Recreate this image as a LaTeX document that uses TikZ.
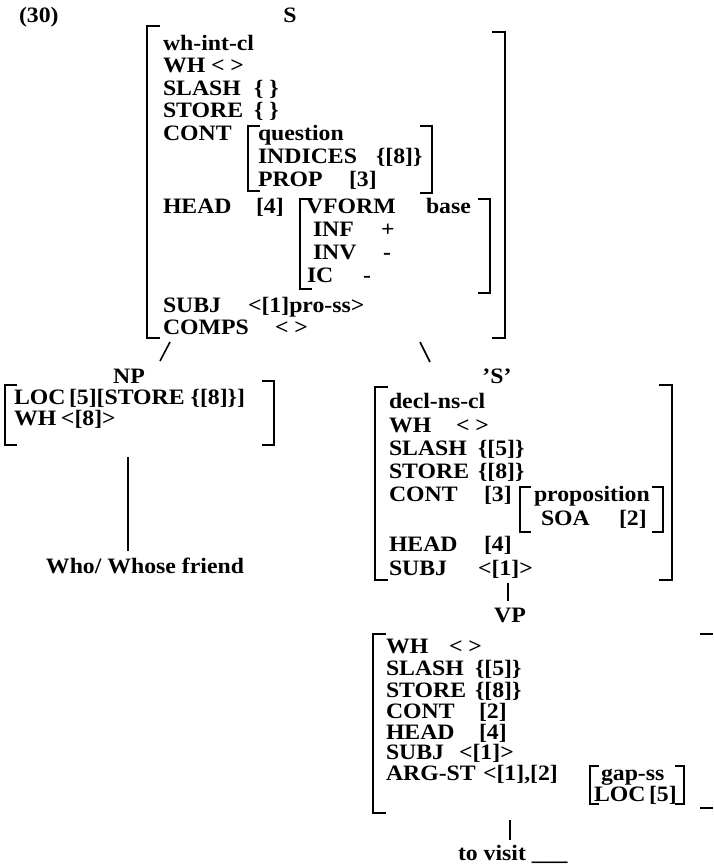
\documentclass[tikz,border=0pt]{standalone}
\usepackage{fontspec}
\setmainfont{Liberation Serif}[FakeStretch=1.08]
\usepackage{tikz}
\usetikzlibrary{positioning}

\begin{document}
\begin{tikzpicture}[x=0.5pt, y=-0.5pt, line width=1pt,
    feat/.style={anchor=base west, inner sep=0pt, font=\fontsize{11}{13}\selectfont\bfseries},
    cat/.style={anchor=base, inner sep=0pt, font=\fontsize{11}{13}\selectfont\bfseries}]
        \useasboundingbox (0,0) rectangle (713,867);

        % Example number and mother label
        \node[feat] (exnum) at (18,22) {(30)};
        \node[cat] (sTop) at (290,22) {S};

        % Top AVM (wh-int-cl)
        \draw (160,26) -- (147,26) -- (147,338) -- (160,338);
        \draw (492,32) -- (505,32) -- (505,338) -- (492,338);
        \node[feat] (tType) at (162,50) {wh-int-cl};
        \node[feat] (tWh) at (162,72) {WH};
        \node[feat] (tWhV) at (210,72) {< >};
        \node[feat] (tSlash) at (162,95) {SLASH};
        \node[feat] (tSlashV) at (253,95) {\{ \}};
        \node[feat] (tStore) at (162,117) {STORE};
        \node[feat] (tStoreV) at (253,117) {\{ \}};
        \node[feat] (tCont) at (162,140) {CONT};
        \node[feat] (tHead) at (162,213) {HEAD};
        \node[feat] (tHeadV) at (255,213) {[4]};
        \node[feat] (tSubj) at (162,312) {SUBJ};
        \node[feat] (tSubjV) at (247,312) {<[1]pro-ss>};
        \node[feat] (tComps) at (162,334) {COMPS};
        \node[feat] (tCompsV) at (274,334) {< >};

        % CONT value of the top AVM
        \draw (260,126) -- (248,126) -- (248,191) -- (260,191);
        \draw (420,126) -- (432,126) -- (432,193) -- (420,193);
        \node[feat] (qType) at (257,140) {question};
        \node[feat] (qInd) at (257,163) {INDICES};
        \node[feat] (qIndV) at (375,163) {\{[8]\}};
        \node[feat] (qProp) at (257,186) {PROP};
        \node[feat] (qPropV) at (348,186) {[3]};

        % HEAD value of the top AVM
        \draw (312,199) -- (300,199) -- (300,289) -- (312,289);
        \draw (478,199) -- (490,199) -- (490,293) -- (478,293);
        \node[feat] (hVform) at (305,213) {VFORM};
        \node[feat] (hVformV) at (425,213) {base};
        \node[feat] (hInf) at (312,236) {INF};
        \node[feat] (hInfV) at (380,236) {+};
        \node[feat] (hInv) at (312,259) {INV};
        \node[feat] (hInvV) at (382,259) {-};
        \node[feat] (hIc) at (306,282) {IC};
        \node[feat] (hIcV) at (362,282) {-};

        % Branches of the top node
        \coordinate (brL1) at (170,342);
        \coordinate (brL2) at (160,361);
        \coordinate (brR1) at (420,342);
        \coordinate (brR2) at (430,362);
        \draw[line width=0.8pt] (brL1) -- (brL2);
        \draw[line width=0.8pt] (brR1) -- (brR2);

        % NP daughter
        \node[cat] (np) at (129,383) {NP};
        \draw (17,385) -- (5,385) -- (5,445) -- (17,445);
        \draw (262,381) -- (274,381) -- (274,445) -- (262,445);
        \node[feat] (npLoc) at (13,404) {LOC};
        \node[feat] (npLocV) at (68,404) {[5][STORE \{[8]\}]};
        \node[feat] (npWh) at (13,425) {WH};
        \node[feat] (npWhV) at (60,425) {<[8]>};
        \coordinate (npLine1) at (128,457);
        \coordinate (npLine2) at (128,551);
        \draw (npLine1) -- (npLine2);
        \node[cat] (who) at (145,573) {Who/ Whose friend};

        % 'S' daughter (decl-ns-cl)
        \node[cat] (sBar) at (497,383) {'S'};
        \draw (388,387) -- (375,387) -- (375,580) -- (388,580);
        \draw (659,385) -- (672,385) -- (672,580) -- (659,580);
        \node[feat] (dType) at (388,408) {decl-ns-cl};
        \node[feat] (dWh) at (388,432) {WH};
        \node[feat] (dWhV) at (455,432) {< >};
        \node[feat] (dSlash) at (388,455) {SLASH};
        \node[feat] (dSlashV) at (477,455) {\{[5]\}};
        \node[feat] (dStore) at (388,478) {STORE};
        \node[feat] (dStoreV) at (477,478) {\{[8]\}};
        \node[feat] (dCont) at (388,501) {CONT};
        \node[feat] (dContV) at (483,501) {[3]};
        \draw (531,487) -- (520,487) -- (520,532) -- (531,532);
        \draw (652,487) -- (663,487) -- (663,532) -- (652,532);
        \node[feat] (pType) at (533,501) {proposition};
        \node[feat] (pSoa) at (540,525) {SOA};
        \node[feat] (pSoaV) at (618,525) {[2]};
        \node[feat] (dHead) at (388,551) {HEAD};
        \node[feat] (dHeadV) at (483,551) {[4]};
        \node[feat] (dSubj) at (388,575) {SUBJ};
        \node[feat] (dSubjV) at (477,575) {<[1]>};
        \coordinate (vpLine1) at (508,583);
        \coordinate (vpLine2) at (508,601);
        \draw[line width=0.8pt] (vpLine1) -- (vpLine2);

        % VP
        \node[cat] (vp) at (510,622) {VP};
        \draw (386,634) -- (373,634) -- (373,813) -- (386,813);
        \draw (700,634) -- (713,634);
        \draw (700,808) -- (713,808);
        \node[feat] (vWh) at (385,653) {WH};
        \node[feat] (vWhV) at (448,653) {< >};
        \node[feat] (vSlash) at (385,675) {SLASH};
        \node[feat] (vSlashV) at (474,675) {\{[5]\}};
        \node[feat] (vStore) at (385,697) {STORE};
        \node[feat] (vStoreV) at (474,697) {\{[8]\}};
        \node[feat] (vCont) at (385,718) {CONT};
        \node[feat] (vContV) at (478,718) {[2]};
        \node[feat] (vHead) at (385,739) {HEAD};
        \node[feat] (vHeadV) at (478,739) {[4]};
        \node[feat] (vSubj) at (385,759) {SUBJ};
        \node[feat] (vSubjV) at (458,759) {<[1]>};
        \node[feat] (vArg) at (385,780) {ARG-ST};
        \node[feat] (vArgV) at (482,780) {<[1],[2]};
        \draw (599,766) -- (590,766) -- (590,804) -- (599,804);
        \draw (675,766) -- (684,766) -- (684,804) -- (675,804);
        \node[feat] (gType) at (600,780) {gap-ss};
        \node[feat] (gLoc) at (593,801) {LOC};
        \node[feat] (gLocV) at (648,801) {[5]};
        \coordinate (wLine1) at (510,820);
        \coordinate (wLine2) at (510,840);
        \draw[line width=0.8pt] (wLine1) -- (wLine2);
        \node[feat] (words) at (457,860) {to visit \_\_\_};
    \end{tikzpicture}
\end{document}
